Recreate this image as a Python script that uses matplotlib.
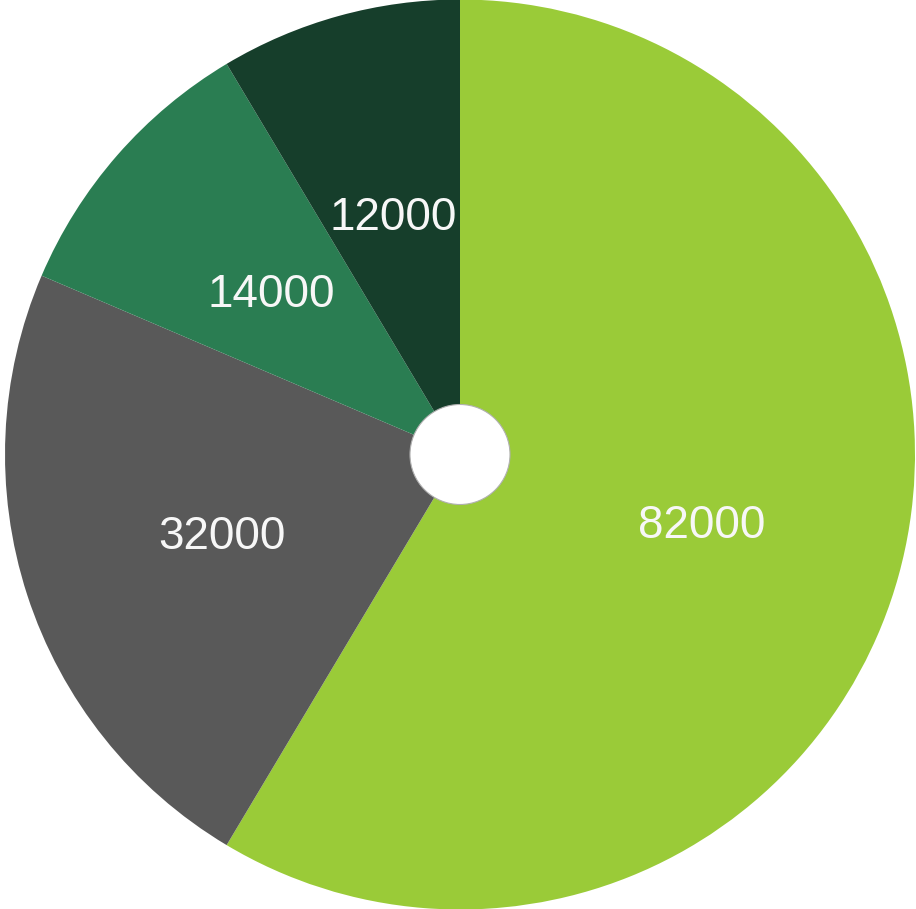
import matplotlib
matplotlib.use("Agg")
import matplotlib.pyplot as plt
from matplotlib.patches import Circle

values = [82000, 32000, 14000, 12000]
colors = ["#9ACB38", "#595959", "#2A7D52", "#163E2B"]
total = sum(values)

W, H = 916, 909
fig = plt.figure(figsize=(W / 100, H / 100), dpi=100)
ax = fig.add_axes([0, 0, 1, 1])

cx, cy, R = 460, 454.5, 455
wedges, texts, autotexts = ax.pie(
    values, colors=colors, startangle=90, counterclock=False,
    center=(cx, cy), radius=R, frame=True,
    autopct=lambda p: f"{round(p * total / 100):d}", pctdistance=0.55,
    wedgeprops=dict(linewidth=0),
    textprops=dict(color="#F7F7F7", fontsize=33, family="Liberation Sans"),
)
# nudge labels down a touch to sit like the original
for t in autotexts:
    x, y = t.get_position()
    t.set_position((x, y - 5))

ax.set_xlim(0, W)
ax.set_ylim(0, H)
ax.set_aspect("equal")
ax.axis("off")

ax.add_patch(Circle((cx, cy), 50, facecolor="white", edgecolor="#B0B0B0", lw=0.8, zorder=5))

fig.savefig("out.png", dpi=100, facecolor="white")
